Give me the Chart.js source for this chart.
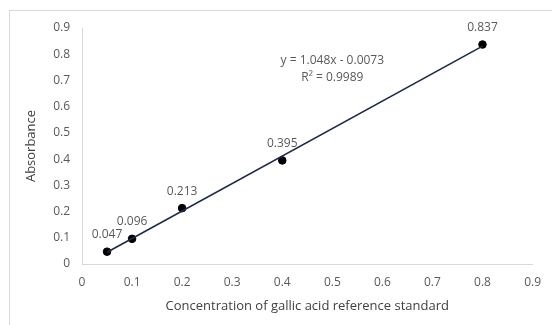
<!DOCTYPE html>
<html>
<head>
<meta charset="utf-8">
<script src="https://cdn.jsdelivr.net/npm/chart.js@4/dist/chart.umd.min.js"></script>
<style>
  html, body { margin: 0; padding: 0; background: #fff; }
  .wrap { position: relative; width: 552px; height: 325px; }
  .frame { position: absolute; left: 9px; top: 10px; width: 560px; height: 330px;
           border-left: 1px solid #d9d9d9; border-top: 1px solid #d9d9d9; }
  canvas { position: absolute; left: 0; top: 0; }
</style>
</head>
<body>
<div class="wrap">
  <div class="frame"></div>
  <canvas id="chart" width="552" height="325"></canvas>
</div>
<script>
// measured standards
const concentrations = [0.05, 0.1, 0.2, 0.4, 0.8];
const absorbances = [0.047, 0.096, 0.213, 0.395, 0.837];
const pointLabels = ['0.047', '0.096', '0.213', '0.395', '0.837'];

// linear trendline end points (y = 1.048x - 0.0073)
const trendX = [0.05, 0.8];
const trendY = [0.045, 0.831];
const equationLines = ['y = 1.048x - 0.0073', 'R² = 0.9989'];

const xTitle = 'Concentration of gallic acid reference standard';
const yTitle = 'Absorbance';

const FONT = '"Open Sans", "Liberation Sans", sans-serif';
const GREY = '#595959';

const labelPlugin = {
  id: 'labels',
  afterDatasetsDraw(chart) {
    const ctx = chart.ctx;
    const meta = chart.getDatasetMeta(1);
    const xs = chart.scales.x, ys = chart.scales.y;
    ctx.save();
    ctx.fillStyle = GREY;
    ctx.font = '12px ' + FONT;
    ctx.textAlign = 'center';
    ctx.textBaseline = 'middle';
    meta.data.forEach((pt, i) => {
      ctx.fillText(pointLabels[i], pt.x, pt.y - 17);
    });
    // equation
    const ex = xs.getPixelForValue(0.5);
    ctx.fillText(equationLines[0], ex, ys.getPixelForValue(0.777));
    ctx.fillText(equationLines[1], ex, ys.getPixelForValue(0.712));
    // axis titles
    ctx.font = '13px ' + FONT;
    ctx.fillStyle = '#404040';
    ctx.fillText(xTitle, (chart.chartArea.left + chart.chartArea.right) / 2, 306);
    ctx.translate(31, (chart.chartArea.top + chart.chartArea.bottom) / 2);
    ctx.rotate(-Math.PI / 2);
    ctx.fillText(yTitle, 0, 0);
    ctx.restore();
  }
};

new Chart(document.getElementById('chart'), {
  type: 'scatter',
  data: {
    datasets: [
      {
        type: 'line',
        data: trendX.map((x, i) => ({ x: x, y: trendY[i] })),
        borderColor: '#1c2a48',
        borderWidth: 1.6,
        pointRadius: 0,
        fill: false
      },
      {
        data: concentrations.map((x, i) => ({ x: x, y: absorbances[i] })),
        backgroundColor: '#000',
        borderColor: '#000',
        pointRadius: 3.8
      }
    ]
  },
  options: {
    responsive: false,
    animation: false,
    layout: { padding: { top: 28, right: 14, left: 0, bottom: 0 } },
    plugins: { legend: { display: false }, tooltip: { enabled: false } },
    scales: {
      x: {
        type: 'linear',
        min: 0, max: 0.9,
        afterFit(s) { s.height = 61; },
        grid: { display: false, drawTicks: false },
        border: { color: '#d9d9d9', width: 1 },
        ticks: { stepSize: 0.1, padding: 11, color: GREY, font: { family: FONT, size: 12 },
                 callback: v => Math.round(v * 10) / 10 }
      },
      y: {
        min: 0, max: 0.9,
        afterFit(s) { s.width = 82; },
        grid: { display: false, drawTicks: false },
        border: { color: '#d9d9d9', width: 1 },
        ticks: { stepSize: 0.1, padding: 12, color: GREY, font: { family: FONT, size: 12 },
                 callback: v => Math.round(v * 10) / 10 }
      }
    }
  },
  plugins: [labelPlugin]
});
</script>
</body>
</html>
